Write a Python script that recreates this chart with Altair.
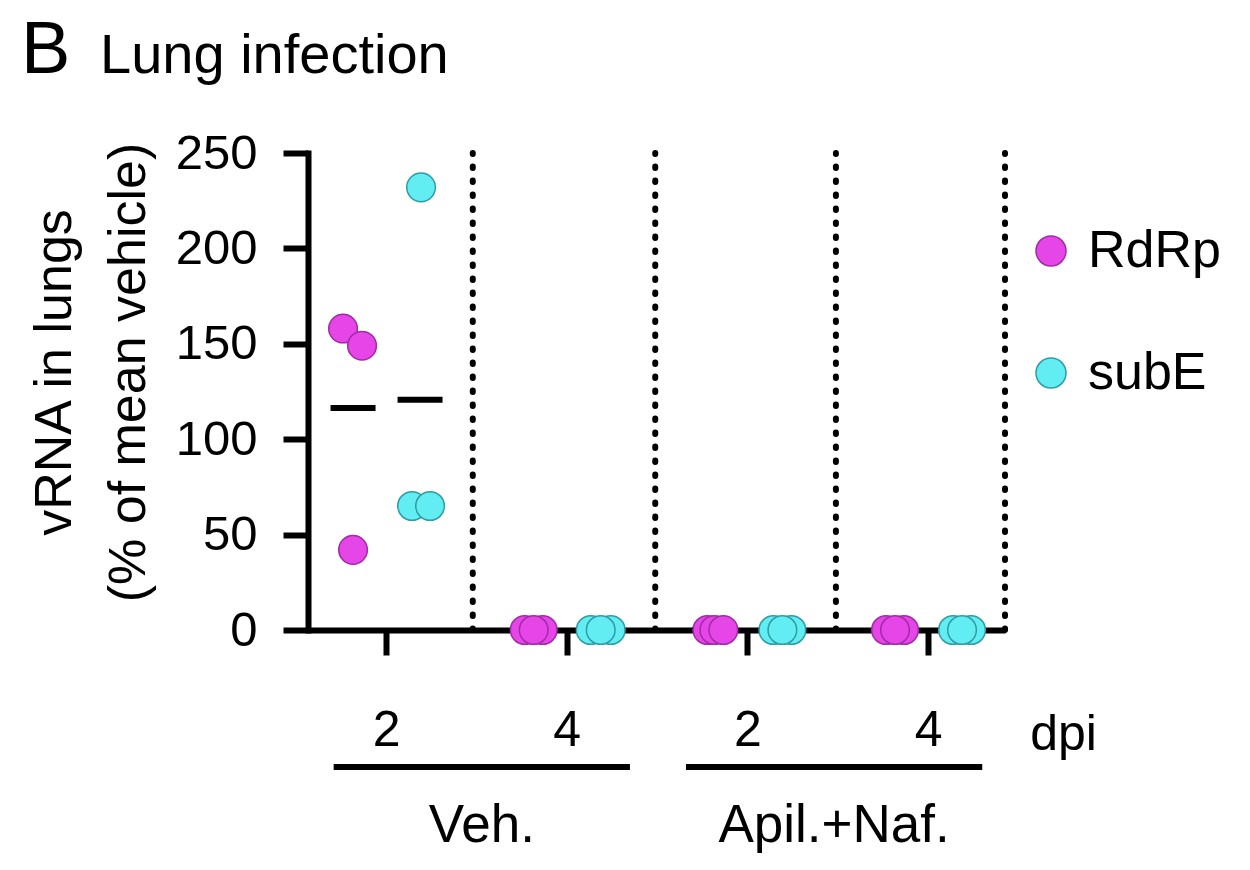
import json
import altair as alt
import pandas as pd

# ---------------- data ----------------
groups = ["Veh. 2 dpi", "Veh. 4 dpi", "Apil.+Naf. 2 dpi", "Apil.+Naf. 4 dpi"]
dpi_labels = ["2", "4", "2", "4"]
treatments = ["Veh.", "Apil.+Naf."]
series = ["RdRp", "subE"]
rdrp_values = [[158, 149, 42], [0, 0, 0], [0, 0, 0], [0, 0, 0]]
sube_values = [[232, 65, 65], [0, 0, 0], [0, 0, 0], [0, 0, 0]]
y_ticks = [0, 50, 100, 150, 200, 250]

# ---------------- layout ----------------
W, H = 697, 477
X_MIN, X_MAX = -0.432, 3.426
PX = W / (X_MAX - X_MIN)
SERIES_OFFSET_PX = {"RdRp": -33, "subE": 34}
JITTER_PX = {
    "RdRp": [[-10, 9, 0], [-9, 9, 0], [-7, 0, 9], [-9, 9, 0]],
    "subE": [[1, -8, 10], [-10, 10, 0], [-8, 10, 1], [-9, 9, 0]],
}
SEPARATORS = [0.48, 1.49, 2.49, X_MAX]
TREAT_CENTERS = [0.53, 2.48]
UNDERLINE_HALF = 0.82
FILLS = ["#E645E8", "#62EDF2"]
STROKES = ["#A12BA6", "#2E9CA5"]
FONT = "Liberation Sans"
LW = 6

values_by_series = {"RdRp": rdrp_values, "subE": sube_values}

rows, means = [], []
for s in series:
    for gi, g in enumerate(groups):
        vals = values_by_series[s][gi]
        for k, v in enumerate(vals):
            rows.append({
                "group": g, "series": s, "value": v,
                "x": gi + (SERIES_OFFSET_PX[s] + JITTER_PX[s][gi][k]) / PX,
            })
        means.append({"group": g, "series": s,
                      "value": sum(vals) / len(vals),
                      "x": gi + SERIES_OFFSET_PX[s] / PX})
df = pd.DataFrame(rows)
df_mean = pd.DataFrame(means)
df_sep = pd.DataFrame({"x": SEPARATORS})
df_treat = pd.DataFrame({
    "label": treatments,
    "x": TREAT_CENTERS,
    "x1": [c - UNDERLINE_HALF for c in TREAT_CENTERS],
    "x2": [c + UNDERLINE_HALF for c in TREAT_CENTERS],
})
one = pd.DataFrame({"a": [0]})

xscale = alt.Scale(domain=[X_MIN, X_MAX], nice=False, zero=False)
yscale = alt.Scale(domain=[0, 250], nice=False)

label_expr = json.dumps(dpi_labels) + "[datum.value]"

x_axis = alt.Axis(values=[0, 1, 2, 3], labelExpr=label_expr, title=None,
                  grid=False, tickSize=25, tickWidth=LW, domainWidth=LW,
                  tickColor="black", domainColor="black",
                  labelFontSize=50, labelPadding=50, labelBaseline="top",
                  labelColor="black", labelFont=FONT)
y_axis = alt.Axis(values=y_ticks, title=["vRNA in lungs", "(% of mean vehicle)"],
                  grid=False, tickSize=25, tickWidth=LW, domainWidth=LW,
                  domainCap="square",
                  tickColor="black", domainColor="black",
                  labelFontSize=49, labelPadding=26, labelColor="black",
                  labelFont=FONT, titleFont=FONT, titleFontSize=52,
                  titleFontWeight="normal", titleColor="black",
                  titleLineHeight=74, titlePadding=20, titleY=219)

legend = alt.Legend(title=None, orient="none", legendX=717, legendY=72,
                    labelFontSize=52, labelFont=FONT, labelColor="black",
                    symbolSize=900, labelOffset=11, rowPadding=70,
                    symbolStrokeWidth=1.5, padding=0, symbolType="circle")

sep = alt.Chart(df_sep).mark_rule(
    color="black", strokeWidth=6, strokeDash=[1.5, 12.5], strokeCap="round"
).encode(
    x=alt.X("x:Q", scale=xscale, axis=x_axis),
    y=alt.datum(0, scale=yscale, axis=y_axis),
    y2=alt.datum(250),
)

mean_ticks = alt.Chart(df_mean).mark_tick(
    orient="horizontal", size=45, thickness=LW, color="black", opacity=1
).encode(
    x=alt.X("x:Q", scale=xscale),
    y=alt.Y("value:Q", scale=yscale),
)

points = alt.Chart(df).mark_circle(size=820, opacity=1, strokeWidth=1.5).encode(
    x=alt.X("x:Q", scale=xscale),
    y=alt.Y("value:Q", scale=yscale),
    fill=alt.Fill("series:N", scale=alt.Scale(domain=series, range=FILLS), legend=legend),
    stroke=alt.Stroke("series:N", scale=alt.Scale(domain=series, range=STROKES), legend=legend),
)

dpi_text = alt.Chart(one).mark_text(
    text="dpi", fontSize=50, font=FONT, color="black", align="center", baseline="alphabetic"
).encode(x=alt.datum(3.75), y=alt.value(597))

underlines = alt.Chart(df_treat).mark_rule(color="black", strokeWidth=LW).encode(
    x="x1:Q", x2="x2:Q", y=alt.value(614)
)

treat_text = alt.Chart(df_treat).mark_text(
    fontSize=53, font=FONT, color="black", align="center", baseline="alphabetic"
).encode(x="x:Q", y=alt.value(689), text="label:N")

title_b = alt.Chart(one).mark_text(
    text="B", fontSize=74, font=FONT, color="black", align="left", baseline="alphabetic"
).encode(x=alt.value(-287), y=alt.value(-80))

title_main = alt.Chart(one).mark_text(
    text="Lung infection", fontSize=56, font=FONT, color="black", align="left", baseline="alphabetic"
).encode(x=alt.value(-208), y=alt.value(-80))

chart = alt.layer(
    sep, mean_ticks, points, dpi_text, underlines, treat_text, title_b, title_main
).properties(
    width=W, height=H,
    padding={"left": 308, "top": 153, "right": 245, "bottom": 240},
    autosize=alt.AutoSizeParams(type="none"),
    background="white",
).configure(font=FONT).configure_view(stroke=None)

chart.save("out.html", embed_options={"renderer": "svg", "actions": False})
